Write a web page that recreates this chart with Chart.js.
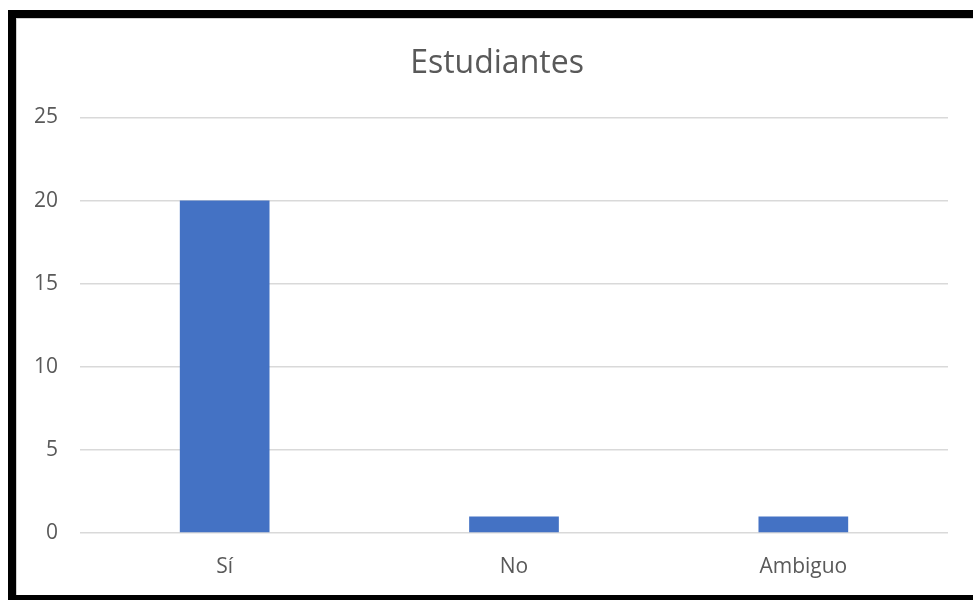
<!DOCTYPE html>
<html>
<head>
<meta charset="utf-8">
<script src="https://cdn.jsdelivr.net/npm/chart.js@4"></script>
<style>
  html, body { margin: 0; padding: 0; background: #fff; overflow: hidden; width: 973px; height: 600px; }
  #frame {
    position: absolute; left: 8px; top: 10px; width: 980px; height: 577px;
    border-left: 8px solid #000; border-top: 8px solid #000; border-bottom: 5px solid #000;
  }
  #inner {
    position: absolute; left: 0; top: 0; right: 0; bottom: 0;
    border-left: 1px solid #d0d0d0; border-top: 1px solid #d0d0d0;
  }
  #wrap { position: absolute; left: 16px; top: 18px; width: 962px; height: 577px; }
</style>
</head>
<body>
<div id="frame"><div id="inner"></div></div>
<div id="wrap"><canvas id="chart"></canvas></div>
<script>
// --- Data ---
const categories = ['Sí', 'No', 'Ambiguo'];
const students = [20, 1, 1];
const yTicks = [0, 5, 10, 15, 20, 25];

const textColor = '#595959';
const fontFamily = "'Open Sans', 'Noto Sans', sans-serif";

const ctx = document.getElementById('chart').getContext('2d');
new Chart(ctx, {
    type: 'bar',
    data: {
        labels: categories,
        datasets: [{
            label: 'Estudiantes',
            data: students,
            backgroundColor: '#4472C4',
            categoryPercentage: 1,
            barPercentage: 0.31
        }]
    },
    options: {
        responsive: true,
        maintainAspectRatio: false,
        animation: false,
        layout: { padding: 0 },
        plugins: {
            legend: { display: false },
            tooltip: { enabled: false },
            title: {
                display: true,
                text: 'Estudiantes',
                color: textColor,
                font: { family: fontFamily, size: 32, weight: 'normal' },
                padding: { top: 27, bottom: 34 }
            }
        },
        scales: {
            x: {
                grid: { display: false },
                border: { display: false },
                ticks: {
                    color: textColor,
                    font: { family: fontFamily, size: 21 },
                    padding: 13
                },
                afterFit: (scale) => { scale.height = 62; }
            },
            y: {
                min: yTicks[0],
                max: yTicks[yTicks.length - 1],
                afterBuildTicks: (scale) => {
                    scale.ticks = yTicks.map(v => ({ value: v }));
                },
                grid: { color: '#d9d9d9', lineWidth: 1.5, drawTicks: false },
                border: { display: false },
                ticks: {
                    color: textColor,
                    font: { family: fontFamily, size: 21 },
                    padding: 22
                },
                afterFit: (scale) => { scale.width = 64; }
            },
            // empty right margin so the title centres like the original
            yRight: {
                position: 'right',
                grid: { display: false },
                border: { display: false },
                ticks: { display: false },
                afterFit: (scale) => { scale.width = 30; }
            }
        }
    }
});
</script>
</body>
</html>
